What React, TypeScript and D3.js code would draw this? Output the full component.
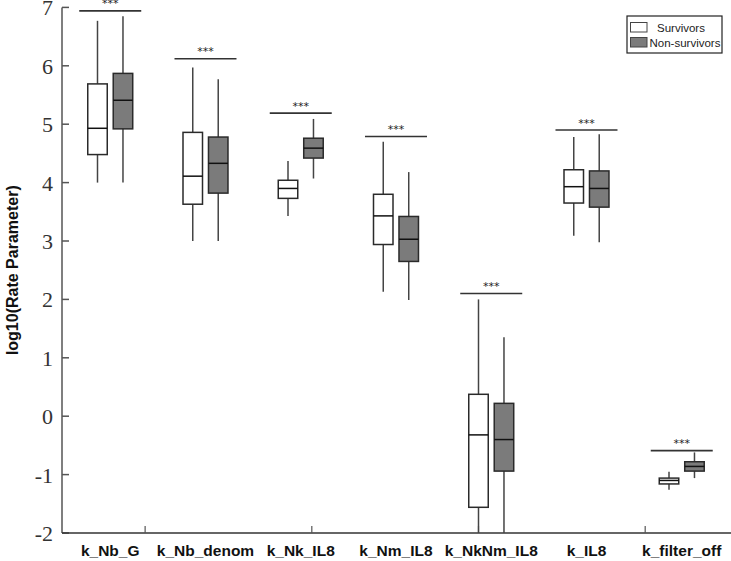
import React from "react";
import * as d3 from "d3";

const categories = ["k_Nb_G", "k_Nb_denom", "k_Nk_IL8", "k_Nm_IL8", "k_NkNm_IL8", "k_IL8", "k_filter_off"];
// [whiskerLow, Q1, median, Q3, whiskerHigh]
const survivors = [
  [4.0, 4.48, 4.93, 5.69, 6.77],
  [3.0, 3.63, 4.11, 4.86, 5.97],
  [3.43, 3.73, 3.9, 4.04, 4.37],
  [2.13, 2.94, 3.43, 3.8, 4.7],
  [-2.1, -1.56, -0.32, 0.375, 2.0],
  [3.09, 3.65, 3.93, 4.22, 4.78],
  [-1.26, -1.16, -1.1, -1.06, -0.95],
];
const nonSurvivors = [
  [4.0, 4.92, 5.41, 5.87, 6.85],
  [3.0, 3.82, 4.33, 4.78, 5.77],
  [4.07, 4.42, 4.59, 4.76, 5.09],
  [1.99, 2.65, 3.03, 3.42, 4.18],
  [-2.1, -0.94, -0.4, 0.22, 1.35],
  [2.98, 3.58, 3.9, 4.2, 4.83],
  [-1.06, -0.94, -0.86, -0.78, -0.62],
];
const sigLevels = [6.94, 6.12, 5.19, 4.79, 2.1, 4.9, -0.59];
const sigLabels = ["***", "***", "***", "***", "***", "***", "***"];
const yTicks = [-2, -1, 0, 1, 2, 3, 4, 5, 6, 7];
const xTicks = [3, 10, 17, 24];
const seriesNames = ["Survivors", "Non-survivors"];

const W = 731;
const H = 561;

export default function App() {
  const x = d3.scaleLinear().domain([1, 25]).range([97.5, 97.5 + 24 * 23.8125]);
  const y = d3.scaleLinear().domain([-2, 7]).range([533, 7.4]);
  const axisX0 = 62;
  const axisY0 = y(-2);
  const boxW = 19.5;
  const greyFill = "#7b7b7b";

  const whitePos = (i: number) => x(4 * i + 1);
  const greyPos = (i: number) => x(4 * i + 2.07);

  const renderBox = (v: number[], cx: number, fill: string, key: string) => {
    const lo = Math.max(v[0], -2);
    return (
      <g key={key}>
        <line x1={cx} x2={cx} y1={y(lo)} y2={y(v[1])} stroke="#444" strokeWidth={1.5} />
        <line x1={cx} x2={cx} y1={y(v[3])} y2={y(v[4])} stroke="#444" strokeWidth={1.5} />
        <rect x={cx - boxW / 2} y={y(v[3])} width={boxW} height={y(v[1]) - y(v[3])} fill={fill} stroke="#2a2a2a" strokeWidth={1.5} />
        <line x1={cx - boxW / 2} x2={cx + boxW / 2} y1={y(v[2])} y2={y(v[2])} stroke="#111" strokeWidth={1.5} />
      </g>
    );
  };

  return (
    <svg width={W} height={H} style={{ position: "absolute", left: 0, top: 0, background: "#fff" }}>
      {/* y axis */}
      <line x1={axisX0} x2={axisX0} y1={y(7)} y2={axisY0} stroke="#555" strokeWidth={1.5} />
      {yTicks.map((t) => (
        <g key={"yt" + t}>
          <line x1={axisX0} x2={axisX0 + 7} y1={y(t)} y2={y(t)} stroke="#555" strokeWidth={1.5} />
          <text x={53} y={y(t)} dy="0.36em" textAnchor="end" fontFamily="'Liberation Serif', 'Times New Roman', serif" fontSize={22} fill="#333">
            {t}
          </text>
        </g>
      ))}
      {/* x axis */}
      <line x1={axisX0} x2={W} y1={axisY0} y2={axisY0} stroke="#333" strokeWidth={1.5} />
      {xTicks.map((t) => (
        <line key={"xt" + t} x1={x(t)} x2={x(t)} y1={axisY0} y2={axisY0 - 7} stroke="#555" strokeWidth={1.2} />
      ))}
      {categories.map((c, i) => (
        <text key={"xl" + c} x={(whitePos(i) + greyPos(i)) / 2} y={556} textAnchor="middle" fontFamily="'Liberation Sans', Arial, sans-serif" fontWeight="bold" fontSize={15.5} fill="#111">
          {c}
        </text>
      ))}
      <text transform={`translate(18,${(y(7) + axisY0) / 2}) rotate(-90)`} textAnchor="middle" fontFamily="'Liberation Sans', Arial, sans-serif" fontWeight="bold" fontSize={16} fill="#111">
        log10(Rate Parameter)
      </text>
      {/* boxes */}
      {categories.map((c, i) => renderBox(survivors[i], whitePos(i), "#fff", "s" + i))}
      {categories.map((c, i) => renderBox(nonSurvivors[i], greyPos(i), greyFill, "n" + i))}
      {/* significance */}
      {categories.map((c, i) => {
        const mid = (whitePos(i) + greyPos(i)) / 2;
        return (
          <g key={"sig" + i}>
            <line x1={mid - 31} x2={mid + 31} y1={y(sigLevels[i])} y2={y(sigLevels[i])} stroke="#333" strokeWidth={1.6} />
            <text x={mid} y={y(sigLevels[i]) - 3.5} textAnchor="middle" fontFamily="'DejaVu Sans', sans-serif" fontSize={11} fill="#222">
              {sigLabels[i]}
            </text>
          </g>
        );
      })}
      {/* legend */}
      <rect x={627} y={16} width={95} height={37} fill="#fff" stroke="#222" strokeWidth={1.2} />
      <rect x={630.5} y={22.5} width={16.5} height={9.5} fill="#fff" stroke="#444" strokeWidth={1} />
      <rect x={630.5} y={37.5} width={16.5} height={9.5} fill={greyFill} stroke="#444" strokeWidth={1} />
      <text x={657} y={31.5} fontFamily="'Liberation Sans', Arial, sans-serif" fontSize={11.5} fill="#222">
        {seriesNames[0]}
      </text>
      <text x={649.5} y={47} fontFamily="'Liberation Sans', Arial, sans-serif" fontSize={11.5} fill="#222">
        {seriesNames[1]}
      </text>
    </svg>
  );
}
